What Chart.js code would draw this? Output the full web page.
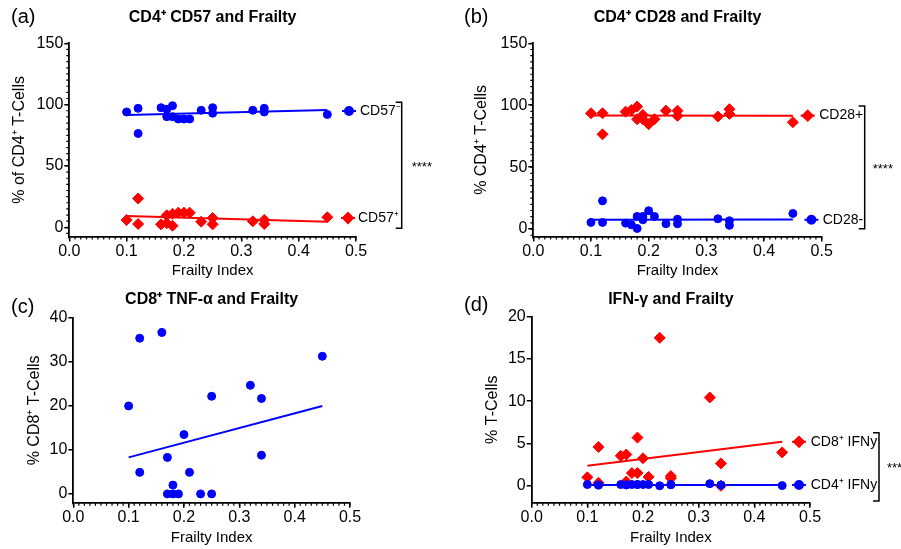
<!DOCTYPE html>
<html>
<head>
<meta charset="utf-8">
<script src="https://cdn.jsdelivr.net/npm/chart.js@4.4.0/dist/chart.umd.min.js"></script>
<style>
body { margin: 0; background: #fff; width: 901px; height: 549px; overflow: hidden; position: relative; }
canvas { position: absolute; }
</style>
</head>
<body>
<canvas id="panelA" width="450" height="284" style="left:0px;top:0px"></canvas>
<canvas id="panelB" width="451" height="284" style="left:450px;top:0px"></canvas>
<canvas id="panelC" width="450" height="281" style="left:0px;top:270px"></canvas>
<canvas id="panelD" width="451" height="281" style="left:450px;top:270px"></canvas>
<script>
// tick labels
const xTicks = [0, 0.1, 0.2, 0.3, 0.4, 0.5];
const yTicksAB = [0, 50, 100, 150];
const yTicksC = [0, 10, 20, 30, 40];
const yTicksD = [0, 5, 10, 15, 20];

// (a) CD4+ CD57
const frailtyA = [0.10, 0.12, 0.12, 0.16, 0.17, 0.17, 0.18, 0.18, 0.19, 0.20, 0.21, 0.23, 0.25, 0.25, 0.32, 0.34, 0.34, 0.45];
const cd57Neg = [94, 97, 76.5, 97.5, 96.2, 90.2, 99.1, 90.2, 88.3, 88.3, 88.3, 95.4, 97.5, 93, 95.4, 97, 94, 92];
const cd57Pos = [6, 2.7, 23.5, 2.4, 3.3, 9.8, 1.3, 11, 11.9, 11.9, 11.9, 4.6, 2.4, 7.6, 4.9, 2.7, 6, 8.2];
const fitX = [0.10, 0.45];
const fitCd57Neg = [91.6, 95.7];
const fitCd57Pos = [9.2, 4.6];

// (b) CD4+ CD28
const frailtyB = [0.10, 0.12, 0.12, 0.16, 0.17, 0.18, 0.18, 0.19, 0.19, 0.20, 0.21, 0.23, 0.25, 0.25, 0.32, 0.34, 0.34, 0.45];
const cd28Pos = [93.5, 93.5, 76.5, 94.8, 96.2, 98.9, 88.7, 92.2, 88.7, 84.7, 88.7, 95.6, 95.6, 91.4, 90.9, 96.8, 93, 86.3];
const cd28Neg = [5.4, 5.4, 22.8, 4.8, 3.5, 0.5, 10.2, 7.5, 10.2, 14.8, 10.2, 4.3, 4.3, 8, 8.3, 3, 6.7, 12.6];
const fitCd28Pos = [91.8, 91.6];
const fitCd28Neg = [7.5, 7.7];

// (c) CD8+ TNF-a
const frailtyC = [0.10, 0.12, 0.12, 0.16, 0.17, 0.17, 0.18, 0.18, 0.19, 0.20, 0.21, 0.23, 0.25, 0.25, 0.32, 0.34, 0.34, 0.45];
const cd8Tnf = [20.0, 35.4, 4.9, 36.7, 8.3, 0, 2.0, 0, 0, 13.5, 4.9, 0, 22.2, 0, 24.7, 21.7, 8.8, 31.3];
const fitCd8Tnf = [8.3, 20.0];

// (d) IFN-g
const frailtyD = [0.10, 0.12, 0.12, 0.16, 0.17, 0.17, 0.18, 0.19, 0.19, 0.20, 0.21, 0.23, 0.25, 0.25, 0.32, 0.34, 0.34, 0.45];
const cd8Ifn = [1.0, 4.6, 0.35, 3.55, 3.7, 0.5, 1.5, 1.5, 5.7, 3.25, 1.05, 17.5, 1.15, 0.9, 10.45, 2.65, 0, 3.95];
const cd4Ifn = [0.15, 0.08, 0.1, 0.15, 0.12, 0.1, 0.15, 0.15, 0.15, 0.15, 0.15, 0, 0.15, 0.12, 0.25, 0.1, 0.08, 0.02];
const fitCd8Ifn = [2.37, 5.2];
const fitCd4Ifn = [0.1, 0.1];

const BLUE = '#0000ff';
const RED = '#ff0000';
const FONT = '"Liberation Sans", Arial, Helvetica, sans-serif';

function pts(xs, ys) {
    return xs.map((x, i) => ({ x: x, y: ys[i] }));
}

function dots(xs, ys, color, style) {
    return {
        data: pts(xs, ys),
        pointStyle: style,
        pointRadius: style === 'rectRot' ? 5.5 : 4,
        pointBorderWidth: 1,
        backgroundColor: color,
        borderColor: color,
        showLine: false
    };
}

function fit(ys, color) {
    return {
        data: pts(fitX, ys),
        showLine: true,
        pointRadius: 0,
        borderColor: color,
        borderWidth: 2
    };
}

// titles, minor ticks, legend and bracket
function makeDecor(p) {
    return {
        id: 'decor',
        afterDraw(chart) {
            const ctx = chart.ctx;
            const area = chart.chartArea;
            const sx = chart.scales.x, sy = chart.scales.y;
            ctx.save();
            ctx.fillStyle = '#000';
            ctx.textBaseline = 'middle';
            ctx.textAlign = 'left';
            ctx.font = '20px ' + FONT;
            ctx.fillText(p.letter, p.letterX, p.letterY);
            ctx.font = 'bold 16px ' + FONT;
            ctx.textAlign = 'center';
            ctx.fillText(p.title, (area.left + area.right) / 2, p.titleY);

            ctx.strokeStyle = '#000';
            ctx.lineWidth = 1.2;
            ctx.beginPath();
            for (let i = 0; i <= Math.round(sx.max / 0.01); i++) {
                const px = sx.getPixelForValue(i * 0.01);
                ctx.moveTo(px, area.bottom);
                ctx.lineTo(px, area.bottom + 3);
            }
            if (p.yMinor) {
                for (let v = Math.ceil(sy.min / p.yMinor); v * p.yMinor <= sy.max; v++) {
                    const py = sy.getPixelForValue(v * p.yMinor);
                    ctx.moveTo(area.left, py);
                    ctx.lineTo(area.left - 3, py);
                }
            }
            ctx.stroke();

            (p.legend || []).forEach(item => {
                const cx = area.right + item.dx;
                const cy = sy.getPixelForValue(item.value);
                ctx.strokeStyle = item.color;
                ctx.fillStyle = item.color;
                ctx.lineWidth = 2;
                ctx.beginPath();
                ctx.moveTo(cx - 7, cy);
                ctx.lineTo(cx + 7, cy);
                ctx.stroke();
                Chart.helpers.drawPoint(ctx, {
                    pointStyle: item.style,
                    radius: item.style === 'rectRot' ? 5 : 4,
                    borderWidth: 1
                }, cx, cy);
                ctx.fillStyle = '#000';
                ctx.font = '14px ' + FONT;
                ctx.textAlign = 'left';
                ctx.fillText(item.text, area.right + item.tdx, cy);
            });

            if (p.bracket) {
                const b = p.bracket;
                const bx = area.right + b.dx;
                const top = sy.getPixelForValue(b.top);
                const bot = sy.getPixelForValue(b.bottom);
                ctx.strokeStyle = '#000';
                ctx.lineWidth = 1.5;
                ctx.beginPath();
                ctx.moveTo(bx - 6, top);
                ctx.lineTo(bx, top);
                ctx.lineTo(bx, bot);
                ctx.lineTo(bx - 6, bot);
                ctx.stroke();
                ctx.fillStyle = '#000';
                ctx.font = '13px ' + FONT;
                ctx.textAlign = 'left';
                ctx.fillText(b.stars, area.right + b.starsDx, (top + bot) / 2 + 2);
            }
            ctx.restore();
        }
    };
}

function buildPanel(id, p, datasets) {
    const canvas = document.getElementById(id);
    const padLeft = p.yTitleX - 13.6;
    const yW = p.l - padLeft;
    const xH = canvas.height - p.b;
    const tickFont = { family: FONT, size: 16 };
    return new Chart(canvas, {
        type: 'scatter',
        data: { datasets: datasets },
        options: {
            responsive: false,
            animation: false,
            layout: {
                padding: { left: padLeft, right: canvas.width - p.r, top: p.t, bottom: 0 }
            },
            plugins: {
                legend: { display: false },
                tooltip: { enabled: false }
            },
            scales: {
                x: {
                    type: 'linear',
                    min: 0,
                    max: 0.5,
                    afterBuildTicks: s => { s.ticks = xTicks.map(v => ({ value: v })); },
                    afterFit: s => { s.height = xH; },
                    ticks: {
                        callback: v => Number(v).toFixed(1),
                        font: tickFont,
                        color: '#000',
                        padding: 0,
                        maxRotation: 0,
                        autoSkip: false
                    },
                    grid: { drawOnChartArea: false, drawTicks: true, tickLength: 5, color: '#000', lineWidth: 1.5 },
                    border: { color: '#000', width: 1.8 },
                    title: { display: true, text: 'Frailty Index', font: { family: FONT, size: 15 }, color: '#000' }
                },
                y: {
                    type: 'linear',
                    min: p.yMin,
                    max: p.yMax,
                    afterBuildTicks: s => { s.ticks = p.yTicks.map(v => ({ value: v })); },
                    afterFit: s => { s.width = yW; },
                    ticks: {
                        callback: v => v,
                        font: tickFont,
                        color: '#000',
                        padding: 1,
                        autoSkip: false
                    },
                    grid: { drawOnChartArea: false, drawTicks: true, tickLength: 5, color: '#000', lineWidth: 1.5 },
                    border: { color: '#000', width: 1.8 },
                    title: { display: true, text: p.yTitle, font: { family: FONT, size: 16 }, color: '#000' }
                }
            }
        },
        plugins: [makeDecor(p)]
    });
}

buildPanel('panelA', {
    l: 69.3, r: 356, t: 43.3, b: 236.5, yTitleX: 20,
    yMin: -7.5, yMax: 150, yTicks: yTicksAB, yMinor: 5,
    yTitle: '% of CD4⁺ T-Cells',
    title: 'CD4⁺ CD57 and Frailty', titleY: 18,
    letter: '(a)', letterX: 11, letterY: 17,
    legend: [
        { text: 'CD57⁻', color: BLUE, style: 'circle', value: 94.8, dx: -7, tdx: 4 },
        { text: 'CD57⁺', color: RED, style: 'rectRot', value: 7.6, dx: -8, tdx: 2 }
    ],
    bracket: { dx: 45.7, top: 102, bottom: -0.8, stars: '****', starsDx: 55.7 }
}, [
    dots(frailtyA, cd57Neg, BLUE, 'circle'),
    dots(frailtyA, cd57Pos, RED, 'rectRot'),
    fit(fitCd57Neg, BLUE),
    fit(fitCd57Pos, RED)
]);

buildPanel('panelB', {
    l: 83.3, r: 371.7, t: 43.3, b: 236.5, yTitleX: 32,
    yMin: -6, yMax: 150, yTicks: yTicksAB, yMinor: 5,
    yTitle: '% CD4⁺ T-Cells',
    title: 'CD4⁺ CD28 and Frailty', titleY: 18,
    letter: '(b)', letterX: 14, letterY: 17,
    legend: [
        { text: 'CD28+', color: RED, style: 'rectRot', value: 91.6, dx: -14, tdx: -2.5 },
        { text: 'CD28-', color: BLUE, style: 'circle', value: 7.5, dx: -10.3, tdx: 1 }
    ],
    bracket: { dx: 43, top: 99.4, bottom: 0.2, stars: '****', starsDx: 51 }
}, [
    dots(frailtyB, cd28Pos, RED, 'rectRot'),
    dots(frailtyB, cd28Neg, BLUE, 'circle'),
    fit(fitCd28Pos, RED),
    fit(fitCd28Neg, BLUE)
]);

buildPanel('panelC', {
    l: 73.3, r: 350, t: 48, b: 232.7, yTitleX: 35,
    yMin: -2, yMax: 40, yTicks: yTicksC, yMinor: 0,
    yTitle: '% CD8⁺ T-Cells',
    title: 'CD8⁺ TNF-α and Frailty', titleY: 30,
    letter: '(c)', letterX: 11, letterY: 37
}, [
    dots(frailtyC, cd8Tnf, BLUE, 'circle'),
    fit(fitCd8Tnf, BLUE)
]);

buildPanel('panelD', {
    l: 81.7, r: 360, t: 46.7, b: 232.7, yTitleX: 43,
    yMin: -2, yMax: 20, yTicks: yTicksD, yMinor: 0,
    yTitle: '% T-Cells',
    title: 'IFN-γ and Frailty', titleY: 30,
    letter: '(d)', letterX: 14, letterY: 35,
    legend: [
        { text: 'CD8⁺ IFNy', color: RED, style: 'rectRot', value: 5.2, dx: -11, tdx: 0.7 },
        { text: 'CD4⁺ IFNy', color: BLUE, style: 'circle', value: 0.1, dx: -11, tdx: 0.7 }
    ],
    bracket: { dx: 69, top: 6.27, bottom: -1.8, stars: '***', starsDx: 77 }
}, [
    dots(frailtyD, cd4Ifn, BLUE, 'circle'),
    dots(frailtyD, cd8Ifn, RED, 'rectRot'),
    fit(fitCd4Ifn, BLUE),
    fit(fitCd8Ifn, RED)
]);
</script>
</body>
</html>
